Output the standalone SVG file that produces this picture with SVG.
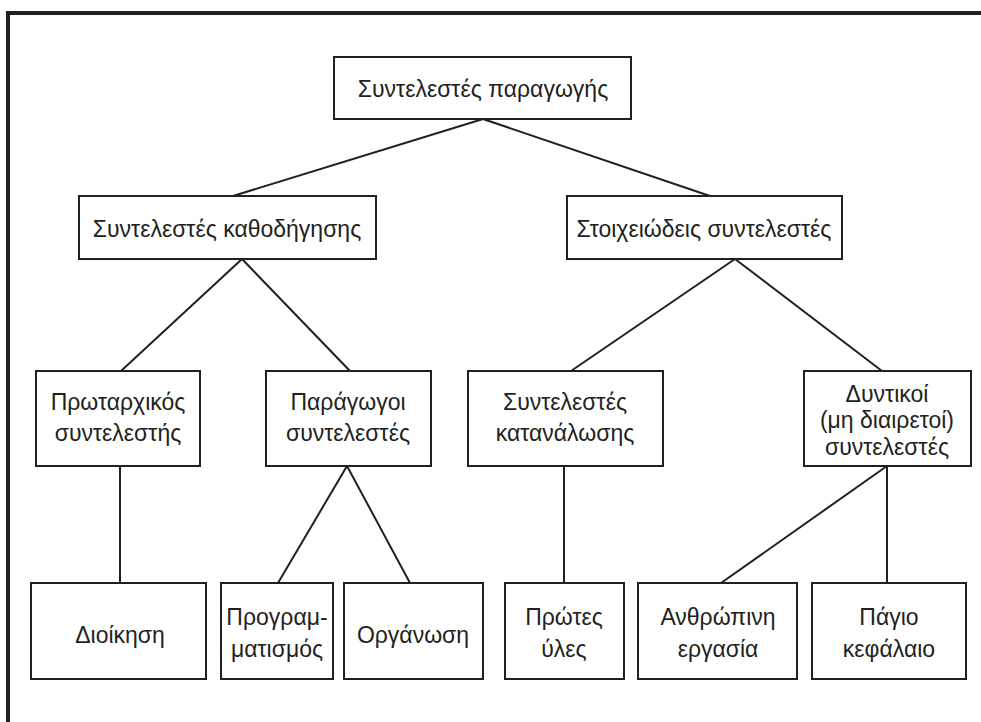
<svg xmlns="http://www.w3.org/2000/svg" width="981" height="722" viewBox="0 0 981 722">
<style>
.box{fill:#fff;stroke:#231f20;stroke-width:2}
.ln{stroke:#231f20;stroke-width:2;fill:none}
.frame{stroke:#231f20;stroke-width:4;fill:none}
text{font-family:"Liberation Sans","DejaVu Sans",sans-serif;font-size:23px;fill:#231f20;text-anchor:middle}
</style>
<rect width="981" height="722" fill="#fff"/>
<path class="frame" d="M8 722V13H981"/>
<g id="connectors">
<path class="ln" d="M483 119L233 196M483 119L710 196"/>
<path class="ln" d="M242 259L121 371M242 259L350 371"/>
<path class="ln" d="M735 259L571 371M735 259L882 371"/>
<path class="ln" d="M120 466V583"/>
<path class="ln" d="M347 466L278 583M347 466L410 583"/>
<path class="ln" d="M564 466V583"/>
<path class="ln" d="M887 466L721 583M887 466V583"/>
</g>
<g id="n-root"><rect class="box" x="334" y="57" width="297" height="62"/><text x="483" y="97">Συντελεστές παραγωγής</text></g>
<g id="n-kath"><rect class="box" x="79" y="196" width="297" height="63"/><text x="227" y="237">Συντελεστές καθοδήγησης</text></g>
<g id="n-stoix"><rect class="box" x="567" y="196" width="275" height="63"/><text x="704" y="237">Στοιχειώδεις συντελεστές</text></g>
<g id="n-prot"><rect class="box" x="36" y="371" width="164" height="95"/><text x="118" y="410">Πρωταρχικός</text><text x="118" y="441">συντελεστής</text></g>
<g id="n-parag"><rect class="box" x="266" y="371" width="165" height="95"/><text x="348" y="410">Παράγωγοι</text><text x="348" y="441">συντελεστές</text></g>
<g id="n-katan"><rect class="box" x="468" y="371" width="195" height="95"/><text x="565" y="410">Συντελεστές</text><text x="565" y="441">κατανάλωσης</text></g>
<g id="n-dynt"><rect class="box" x="804" y="371" width="167" height="95"/><text x="887" y="402">Δυντικοί</text><text x="887" y="428">(μη διαιρετοί)</text><text x="887" y="455">συντελεστές</text></g>
<g id="n-dioik"><rect class="box" x="31" y="583" width="175" height="96"/><text x="120" y="643">Διοίκηση</text></g>
<g id="n-progr"><rect class="box" x="221" y="583" width="112" height="96"/><text x="277" y="625">Προγραμ-</text><text x="277" y="657">ματισμός</text></g>
<g id="n-organ"><rect class="box" x="344" y="583" width="139" height="96"/><text x="413" y="643">Οργάνωση</text></g>
<g id="n-prwtes"><rect class="box" x="505" y="583" width="119" height="96"/><text x="564" y="625">Πρώτες</text><text x="564" y="657">ύλες</text></g>
<g id="n-anthr"><rect class="box" x="638" y="583" width="159" height="96"/><text x="718" y="625">Ανθρώπινη</text><text x="718" y="657">εργασία</text></g>
<g id="n-pagio"><rect class="box" x="812" y="583" width="154" height="96"/><text x="889" y="625">Πάγιο</text><text x="889" y="657">κεφάλαιο</text></g>
</svg>
